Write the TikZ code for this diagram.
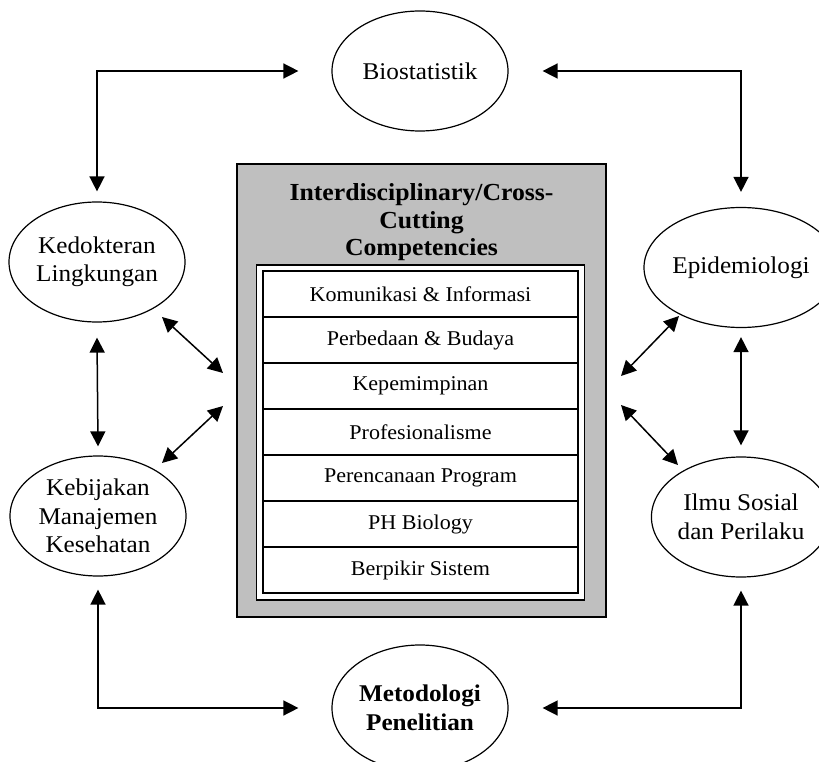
\documentclass[tikz,border=0pt]{standalone}
\usepackage{fontspec}
\setmainfont{Liberation Serif}[FakeStretch=1.05]
\usetikzlibrary{shapes.geometric,arrows.meta}
\definecolor{boxgray}{RGB}{191,191,191}
\begin{document}
\begin{tikzpicture}[x=1pt,y=-1pt,
  disc/.style={ellipse,draw,line width=1.2pt,minimum width=176pt,minimum height=120pt,inner sep=0pt,align=center,font=\fontsize{24}{28.5}\selectfont},
  arr/.style={line width=1.5pt,{Triangle[length=15pt,width=15pt]}-{Triangle[length=15pt,width=15pt]}},
  rowbox/.style={draw,line width=1.2pt,minimum width=315pt,minimum height=46pt,inner sep=0pt,font=\fontsize{21}{24}\selectfont}]
\clip (0,0) rectangle (819,762);
\fill[white] (0,0) rectangle (819,762);

% central block
\node[draw,fill=boxgray,line width=1.2pt,minimum width=369pt,minimum height=453pt,inner sep=0pt] (cc) at (421.5,390.5) {};
\node[align=center,font=\bfseries\fontsize{24.5}{27.5}\selectfont] (title) at (421.5,222.5) {Interdisciplinary/Cross-\\Cutting\\Competencies};
\node[draw,fill=white,line width=1.2pt,minimum width=328pt,minimum height=335pt,inner sep=0pt] (frame) at (420.5,432.5) {};
\node[rowbox] (r1) at (420.5,294) {Komunikasi \& Informasi};
\node[rowbox] (r2) at (420.5,340) {Perbedaan \& Budaya};
\node[rowbox] (r3) at (420.5,386) {Kepemimpinan};
\node[rowbox] (r4) at (420.5,432) {Profesionalisme};
\node[rowbox] (r5) at (420.5,478) {Perencanaan Program};
\node[rowbox] (r6) at (420.5,524) {PH Biology};
\node[rowbox] (r7) at (420.5,570) {Berpikir Sistem};

% ellipses
\node[disc] (bio) at (420,71) {Biostatistik};
\node[disc] (ked) at (97,262) {Kedokteran\\Lingkungan};
\node[disc] (epi) at (741,267.5) {Epidemiologi};
\node[disc] (keb) at (98,516) {Kebijakan\\Manajemen\\Kesehatan};
\node[disc] (ilm) at (741,517) {Ilmu Sosial\\dan Perilaku};
\node[disc,font=\bfseries\fontsize{24}{28.5}\selectfont,minimum height=126pt] (met) at (420,708) {Metodologi\\Penelitian};

% outer connectors
\draw[arr] ([yshift=10pt]ked.north) |- ([xshift=-33pt]bio.west);
\draw[arr] ([xshift=34pt]bio.east) -| ([yshift=15pt]epi.north);
\draw[arr] ([yshift=-13pt]keb.south) |- ([xshift=-33pt]met.west);
\draw[arr] ([xshift=34pt]met.east) -| ([yshift=-13pt]ilm.south);
\draw[arr] ([yshift=-15pt]ked.south) -- ([yshift=9pt]keb.north);
\draw[arr] ([yshift=-9pt]epi.south) -- ([yshift=11pt]ilm.north);

% diagonal connectors
\coordinate (lu1) at (162,317);
\coordinate (lu2) at (223,373);
\coordinate (ll1) at (223,406);
\coordinate (ll2) at (162,463);
\coordinate (ru1) at (679,316);
\coordinate (ru2) at (621,376);
\coordinate (rl1) at (621,405);
\coordinate (rl2) at (678,465);
\draw[arr] (lu1) -- (lu2);
\draw[arr] (ll1) -- (ll2);
\draw[arr] (ru1) -- (ru2);
\draw[arr] (rl1) -- (rl2);
\end{tikzpicture}
\end{document}
